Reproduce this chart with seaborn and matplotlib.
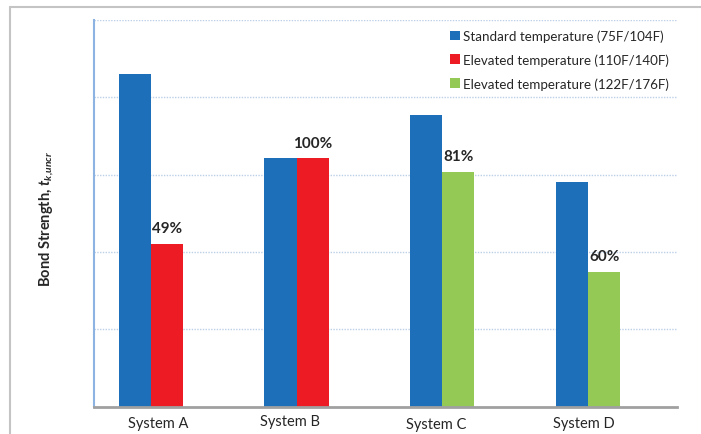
import matplotlib
matplotlib.use("Agg")
import matplotlib.pyplot as plt
from matplotlib.patches import Patch
from matplotlib.lines import Line2D
import seaborn as sns
import pandas as pd

# Chart data (bar heights in gridline units, axis has no numbers)
systems = ["System A", "System B", "System C", "System D"]
standard = [4.30, 3.21, 3.77, 2.90]
elevated = [2.10, 3.21, 3.03, 1.74]
elevated_range = ["110F/140F", "110F/140F", "122F/176F", "122F/176F"]
pct_labels = ["49%", "100%", "81%", "60%"]
legend_labels = ["Standard temperature (75F/104F)",
                 "Elevated temperature (110F/140F)",
                 "Elevated temperature (122F/176F)"]

BLUE = "#1C6FB8"
RED = "#ED1C24"
GREEN = "#94C955"
range_colors = {"110F/140F": RED, "122F/176F": GREEN}

df = pd.DataFrame({
    "System": systems * 2,
    "Condition": ["Standard"] * 4 + ["Elevated"] * 4,
    "Value": standard + elevated,
})

sns.set_style("white")
plt.rcParams["font.family"] = ["Lato", "DejaVu Sans"]
plt.rcParams["mathtext.fontset"] = "custom"
plt.rcParams["mathtext.rm"] = "Lato"
plt.rcParams["mathtext.it"] = "Lato:italic"
plt.rcParams["mathtext.bf"] = "Lato:bold"
plt.rcParams["mathtext.bfit"] = "Lato:bold:italic"

W, H = 701, 435
fig = plt.figure(figsize=(W / 100, H / 100), dpi=100)
ax = fig.add_axes([94 / W, (H - 407.5) / H, (677 - 94) / W, (407.5 - 21) / H])

# third (empty) slot keeps the pair off-centre like the original
sns.barplot(data=df, x="System", y="Value", hue="Condition",
            hue_order=["Standard", "Elevated", "Pad"],
            palette={"Standard": BLUE, "Elevated": RED, "Pad": "white"},
            saturation=1, width=0.663, errorbar=None, linewidth=0,
            legend=False, ax=ax)

# colour the elevated bars by temperature range
for bar, rng in zip(ax.containers[1], elevated_range):
    bar.set_facecolor(range_colors[rng])

for bar, txt in zip(ax.containers[1], pct_labels):
    ax.annotate(txt, (bar.get_x() + bar.get_width() / 2, bar.get_height()),
                xytext=(0, 8.5), textcoords="offset points",
                ha="center", va="baseline", fontsize=11, fontweight="bold")

ax.set_xlim(-0.5, 3.5)
ax.set_ylim(0, 5)
ax.set_yticks([1, 2, 3, 4, 5])
ax.set_yticklabels([])
ax.tick_params(axis="y", length=0)
ax.grid(axis="y", color="#BCD0E8", linestyle=(0, (1, 1)), linewidth=1)
ax.set_axisbelow(True)
ax.set_xlabel("")
ax.set_ylabel("")

ax.set_xticks(range(4))
ax.set_xticklabels([])
ax.set_xticks([-0.5, 0.5, 1.5, 2.5, 3.5], minor=True)
ax.tick_params(axis="x", which="major", length=0)
ax.tick_params(axis="x", which="minor", length=4, width=1, color="#9A9A9A",
               direction="out")

for s in ["top", "right"]:
    ax.spines[s].set_visible(False)
ax.spines["left"].set_color("#8DB3E2")
ax.spines["left"].set_linewidth(1.5)
ax.spines["bottom"].set_color("#A0A0A0")
ax.spines["bottom"].set_linewidth(2)

# category labels sit slightly off the ticks in the original
label_dx = [-9, -23, -22, -20]
label_y = [424.5, 422, 425, 424]
for i, (name, dx, ly) in enumerate(zip(systems, label_dx, label_y)):
    xpx = ax.transData.transform((i, 0))[0] + dx
    fig.text(xpx / W, (H - ly) / H, name, ha="center", va="center",
             fontsize=10.5)

fig.text(47 / W, (H - 219) / H,
         r"Bond Strength, $\mathbfit{t}_{\mathbfit{k{,}uncr}}$",
         rotation=90, ha="center", va="center", fontsize=10.5,
         fontweight="bold")

handles = [Patch(facecolor=c, edgecolor="none") for c in (BLUE, RED, GREEN)]
ax.legend(handles, legend_labels, loc="upper left",
          bbox_to_anchor=((441 - 94) / (677 - 94), 1.0),
          frameon=False, fontsize=9.6, handlelength=0.7, handleheight=0.7,
          handletextpad=0.25, labelspacing=0.85, borderaxespad=0.3)

# outer chart frame (cropped at right and bottom)
fig.add_artist(Line2D([10 / W, 1], [(H - 7.5) / H] * 2, color="#C4C4C4", lw=1.5,
                      transform=fig.transFigure))
fig.add_artist(Line2D([10 / W] * 2, [0, (H - 7.5) / H], color="#C4C4C4", lw=1.5,
                      transform=fig.transFigure))

fig.savefig("out.png", dpi=100)
